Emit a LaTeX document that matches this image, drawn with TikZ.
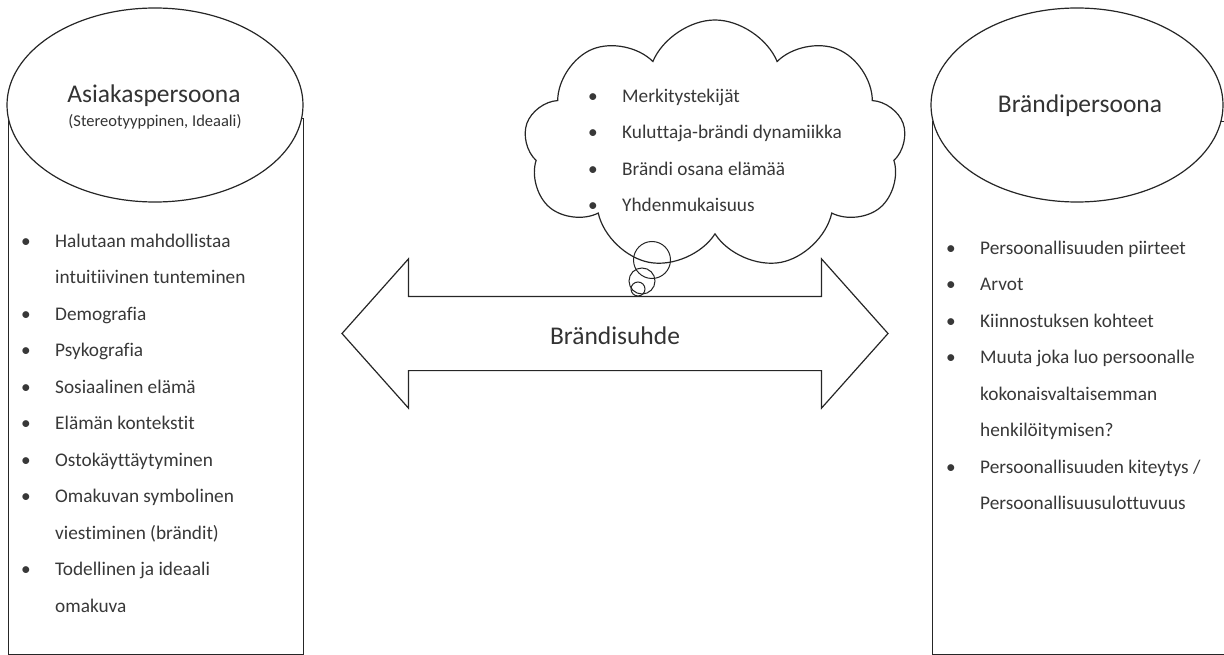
\documentclass[tikz,border=0pt]{standalone}
\usepackage{fontspec}
\setmainfont{Carlito}[Ligatures=NoCommon]
\usetikzlibrary{shapes.geometric, shapes.symbols, shapes.arrows}

\newcommand{\bulitem}[1]{\makebox[34pt][l]{\textbullet}#1}
\newcommand{\bulcont}[1]{\hspace*{34pt}#1}

\begin{document}
\begin{tikzpicture}[x=1pt, y=-1pt,
        line/.style={draw=black!85, line width=1.2pt},
        persona/.style={ellipse, line, fill=white, minimum width=296pt, minimum height=194pt, inner sep=0pt},
        column/.style={rectangle, line, anchor=north west, minimum height=535.5pt, inner sep=0pt},
        bubble/.style={circle, draw=black!85, line width=1pt, inner sep=0pt},
        title/.style={anchor=base, text=black!80, font=\fontsize{25.5}{30}\selectfont},
        list/.style={anchor=north west, align=left, inner sep=0pt, text=black!78, font=\fontsize{19.3}{36.5}\selectfont}
    ]
        \useasboundingbox (0,0) rectangle (1224,655);
        \clip (0,0) rectangle (1224,655);

        \node[column, minimum width=295pt] (asiakasbox) at (8,118) {};
        \node[column, minimum width=310pt, minimum height=532.5pt] (brandibox) at (932,121) {};
        \node[persona] (asiakas) at (155,105) {};
        \node[persona, minimum width=292pt] (brandi) at (1077,105) {};

        \node[cloud, line, cloud puffs=9, cloud puff arc=135, cloud ignores aspect,
              minimum width=382pt, minimum height=250pt, inner sep=0pt] (pilvi) at (715,145) {};
        \node[bubble, minimum size=37pt] (kupla1) at (652,260) {};
        \node[bubble, minimum size=26pt] (kupla2) at (642,281) {};
        \node[bubble, minimum size=14pt] (kupla3) at (638,289) {};

        \node[double arrow, line, double arrow tip angle=96.6, double arrow head extend=37.5pt,
              minimum height=546pt, text height=47pt, text depth=26pt, inner ysep=0pt,
              text=black!80, font=\fontsize{25.5}{30}\selectfont] (suhde) at (615,333.5) {Brändisuhde};

        \node[title] (asiakasnimi) at (154,103) {Asiakaspersoona};
        \node[title, font=\fontsize{16.5}{20}\selectfont] (asiakastyyppi) at (155,127) {(Stereotyyppinen, Ideaali)};
        \node[title] (brandinimi) at (1080,113) {Brändipersoona};

        \node[list] (asiakaslista) at (21,221.5) {\strut\bulitem{Halutaan mahdollistaa}\\
            \bulcont{intuitiivinen tunteminen}\\
            \bulitem{Demografia}\\
            \bulitem{Psykografia}\\
            \bulitem{Sosiaalinen elämä}\\
            \bulitem{Elämän kontekstit}\\
            \bulitem{Ostokäyttäytyminen}\\
            \bulitem{Omakuvan symbolinen}\\
            \bulcont{viestiminen (brändit)}\\
            \bulitem{Todellinen ja ideaali}\\
            \bulcont{omakuva}};

        \node[list] (pilvilista) at (588,76.5) {\strut\bulitem{Merkitystekijät}\\
            \bulitem{Kuluttaja-brändi dynamiikka}\\
            \bulitem{Brändi osana elämää}\\
            \bulitem{Yhdenmukaisuus}};

        \node[list] (brandilista) at (946,228.5) {\strut\bulitem{Persoonallisuuden piirteet}\\
            \bulitem{Arvot}\\
            \bulitem{Kiinnostuksen kohteet}\\
            \bulitem{Muuta joka luo persoonalle}\\
            \bulcont{kokonaisvaltaisemman}\\
            \bulcont{henkilöitymisen?}\\
            \bulitem{Persoonallisuuden kiteytys /}\\
            \bulcont{Persoonallisuusulottuvuus}};
    \end{tikzpicture}
\end{document}
